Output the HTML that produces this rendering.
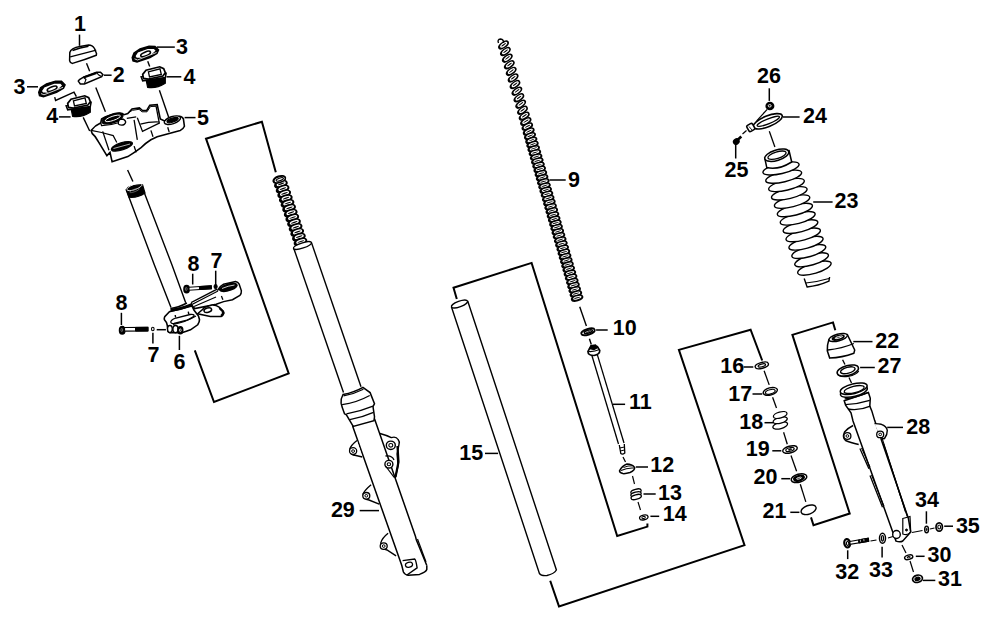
<!DOCTYPE html>
<html><head><meta charset="utf-8"><style>
html,body{margin:0;padding:0;background:#fff;width:989px;height:620px;overflow:hidden}
svg{display:block}
</style></head><body>
<svg width="989" height="620" viewBox="0 0 989 620">
<rect width="989" height="620" fill="#fff"/>
<g font-family="Liberation Sans" font-weight="bold" font-size="21.5" fill="#000" stroke="none">
<text x="74.1" y="30.8">1</text>
<text x="112.8" y="82.1">2</text>
<text x="13.5" y="93.7">3</text>
<text x="176.1" y="54">3</text>
<text x="183.5" y="83.7">4</text>
<text x="46.3" y="123.2">4</text>
<text x="196.9" y="124.6">5</text>
<text x="173.4" y="368.5">6</text>
<text x="210.4" y="267.9">7</text>
<text x="147.4" y="361.9">7</text>
<text x="187.4" y="271.3">8</text>
<text x="115.4" y="309.5">8</text>
<text x="568.1" y="186.7">9</text>
<text x="612.8" y="335.3">10</text>
<text x="629" y="409.4">11</text>
<text x="650.3" y="472.1">12</text>
<text x="658.1" y="499.7">13</text>
<text x="662.7" y="521.1">14</text>
<text x="459.2" y="459.5">15</text>
<text x="720.3" y="373.1">16</text>
<text x="728.3" y="400.6">17</text>
<text x="739.3" y="428.9">18</text>
<text x="745.8" y="456">19</text>
<text x="753.5" y="484.4">20</text>
<text x="762.5" y="517.9">21</text>
<text x="875.3" y="347.7">22</text>
<text x="834.5" y="207.6">23</text>
<text x="803.1" y="123.4">24</text>
<text x="724.5" y="176.8">25</text>
<text x="757" y="82.5">26</text>
<text x="877.5" y="372.5">27</text>
<text x="906.3" y="433.7">28</text>
<text x="330.9" y="516.9">29</text>
<text x="927.5" y="561.5">30</text>
<text x="938.1" y="586.2">31</text>
<text x="835.3" y="579.2">32</text>
<text x="869" y="577.4">33</text>
<text x="915.1" y="506.5">34</text>
<text x="955.9" y="533">35</text>
</g>
<g stroke="#000" fill="none" stroke-linecap="butt" stroke-linejoin="miter">
<line x1="79.5" y1="34.6" x2="79.5" y2="45.8" stroke-width="1.5"/>
<line x1="103.9" y1="75.2" x2="111.6" y2="75.2" stroke-width="1.5"/>
<line x1="27" y1="86.8" x2="38" y2="86.8" stroke-width="1.5"/>
<line x1="156.8" y1="47.1" x2="174.8" y2="47.1" stroke-width="1.5"/>
<line x1="166.5" y1="76.8" x2="181.3" y2="76.8" stroke-width="1.5"/>
<line x1="59" y1="116.9" x2="70.6" y2="116.9" stroke-width="1.5"/>
<line x1="184.6" y1="117.6" x2="195.5" y2="117.6" stroke-width="1.5"/>
<line x1="192.7" y1="273.7" x2="192.7" y2="284.5" stroke-width="1.5"/>
<line x1="215.7" y1="270.7" x2="215.7" y2="285.2" stroke-width="1.5"/>
<line x1="121.4" y1="312.8" x2="121.4" y2="325" stroke-width="1.5"/>
<line x1="152.9" y1="332.7" x2="152.9" y2="343.5" stroke-width="1.5"/>
<line x1="156.7" y1="329.7" x2="165.9" y2="329.7" stroke-width="1.5"/>
<line x1="179.4" y1="335.8" x2="179.4" y2="350" stroke-width="1.5"/>
<line x1="549.5" y1="180" x2="565.7" y2="180" stroke-width="1.5"/>
<line x1="596.1" y1="330" x2="607.7" y2="330" stroke-width="1.5"/>
<line x1="612.9" y1="404.3" x2="625.1" y2="404.3" stroke-width="1.5"/>
<line x1="635.8" y1="467" x2="648" y2="467" stroke-width="1.5"/>
<line x1="643.5" y1="494" x2="655.7" y2="494" stroke-width="1.5"/>
<line x1="650.4" y1="516.3" x2="659.2" y2="516.3" stroke-width="1.5"/>
<line x1="485" y1="453.4" x2="498.1" y2="453.4" stroke-width="1.5"/>
<line x1="743.6" y1="367" x2="753.3" y2="367" stroke-width="1.5"/>
<line x1="752.5" y1="394" x2="762.2" y2="394" stroke-width="1.5"/>
<line x1="764.5" y1="422.7" x2="773.5" y2="422.7" stroke-width="1.5"/>
<line x1="772.3" y1="450.8" x2="781.3" y2="450.8" stroke-width="1.5"/>
<line x1="781.3" y1="478.7" x2="790.3" y2="478.7" stroke-width="1.5"/>
<line x1="790.3" y1="512.3" x2="799.4" y2="512.3" stroke-width="1.5"/>
<line x1="853.3" y1="341.6" x2="872.5" y2="341.6" stroke-width="1.5"/>
<line x1="813.2" y1="202" x2="832.6" y2="202" stroke-width="1.5"/>
<line x1="782.9" y1="117" x2="799.6" y2="117" stroke-width="1.5"/>
<line x1="735.7" y1="143.8" x2="735.7" y2="158.5" stroke-width="1.5"/>
<line x1="769.3" y1="88.3" x2="769.3" y2="100.9" stroke-width="1.5"/>
<line x1="860.1" y1="367.5" x2="874.8" y2="367.5" stroke-width="1.5"/>
<line x1="887.2" y1="427.4" x2="903" y2="427.4" stroke-width="1.5"/>
<line x1="359.7" y1="510.6" x2="379" y2="510.6" stroke-width="1.5"/>
<line x1="915.8" y1="556.3" x2="924.6" y2="556.3" stroke-width="1.5"/>
<line x1="922.9" y1="580.4" x2="935.3" y2="580.4" stroke-width="1.5"/>
<line x1="847.7" y1="550.3" x2="847.7" y2="559.1" stroke-width="1.5"/>
<line x1="882.1" y1="546.7" x2="882.1" y2="557.4" stroke-width="1.5"/>
<line x1="926.4" y1="511.3" x2="926.4" y2="523.7" stroke-width="1.5"/>
<line x1="944.2" y1="526.2" x2="953" y2="526.2" stroke-width="1.5"/>
<polyline points="194.8,350.3 214,402 288.7,373.5 206,138.7 261.9,121.7 275.8,172.3" stroke-width="2" fill="none"/>
<polyline points="456.8,299 453.5,287.7 531.6,262.9 617.2,536 647.4,526.6 647.4,523.5" stroke-width="2" fill="none"/>
<polyline points="550.2,580.7 559,606.4 744.5,545.2 678.9,349.9 750.6,329.7 762.2,360.5" stroke-width="2" fill="none"/>
<polyline points="811,517.4 813.5,525.2 849.7,513.5 792.4,334.8 833,322.4 835.3,330.3" stroke-width="2" fill="none"/>
<line x1="86.5" y1="63.3" x2="89.7" y2="71.3" stroke-width="1.4"/>
<line x1="95.8" y1="87.4" x2="105.4" y2="111.8" stroke-width="1.4"/>
<line x1="147.7" y1="61.3" x2="149.7" y2="66.5" stroke-width="1.4"/>
<line x1="159.4" y1="90.3" x2="168.6" y2="116.9" stroke-width="1.4"/>
<line x1="83.2" y1="117.4" x2="89.7" y2="131" stroke-width="1.4"/>
<polyline points="91,131 115.5,135.5 118,142" stroke-width="1.3" fill="none"/>
<polyline points="54.7,97.1 55.6,100.5 74,92.2 76.4,96.6" stroke-width="1.4" fill="none"/>
<line x1="127.6" y1="170" x2="132.9" y2="181.5" stroke-width="1.4"/>
<path d="M69.8,52.5 Q71,48 80,46.5 L88.5,45 Q92.5,45 94.5,48.5 L96.5,53.5 L96.3,55.2 Q84,60 72.5,63.4 Q70,63 69.6,60.5 Z" stroke-width="1.5" fill="#fff" />
<path d="M70.2,56.8 Q84,53.5 96.2,50.2" stroke-width="1.3" fill="none" />
<path d="M72.5,50.5 Q80,47.5 88.5,46.3" stroke-width="1.6" fill="none" />
<path d="M78.3,81.1 L80.3,84 L84.4,84 L101.7,76.7 L102.9,74.7 L100.5,72.3 L96.5,72.3 L83.5,77.1 L79.5,79.5 Z" stroke-width="1.5" fill="#fff" />
<path d="M83.5,77.5 L96.5,73" stroke-width="2.2" fill="none" />
<path d="M84.4,83.6 L86,79.5 L83.8,77.5 M96.8,72.8 L98.8,75 L101.5,76.5" stroke-width="1.1" fill="none" />
<polygon points="132.2,57.5 133.0,61.0 137.0,62.0 150.0,57.5 157.0,53.5 158.6,50.0 155.0,46.5 149.0,46.3 140.0,49.0 134.0,53.0" fill="#000" stroke="#000" stroke-width="1.4"/>
<polygon points="134.8,56.2 137.5,52.0 147.5,48.3 154.2,48.3 156.5,50.8 152.0,54.8 140.5,58.5 136.2,58.2" fill="#fff" stroke="#000" stroke-width="1.3"/>
<ellipse cx="145.6" cy="53.9" rx="5.2" ry="1.9" transform="rotate(-22 145.6 53.9)" stroke-width="1.6" fill="#fff"/>
<path d="M134.5,58.8 L137.5,60.0 L156.5,52.5" stroke="#fff" stroke-width="0.8" fill="none"/>
<polygon points="38.7,92.3 39.5,95.8 43.5,96.8 56.5,92.3 63.5,88.3 65.1,84.8 61.5,81.3 55.5,81.1 46.5,83.8 40.5,87.8" fill="#000" stroke="#000" stroke-width="1.4"/>
<polygon points="41.3,91.0 44.0,86.8 54.0,83.1 60.7,83.1 63.0,85.6 58.5,89.6 47.0,93.3 42.7,93.0" fill="#fff" stroke="#000" stroke-width="1.3"/>
<ellipse cx="52.1" cy="88.7" rx="5.2" ry="1.9" transform="rotate(-22 52.1 88.7)" stroke-width="1.6" fill="#fff"/>
<path d="M41.0,93.6 L44.0,94.8 L63.0,87.3" stroke="#fff" stroke-width="0.8" fill="none"/>
<path d="M146.0,79.5 L147.6,87.3 Q156.0,89.0 165.3,83.2 L165.3,76.5 Z" fill="#000" stroke="#000" stroke-width="1.2"/>
<path d="M141.1,76.8 L142.7,80.8 L165.3,77.6 L166.1,73.5 Z" fill="#fff" stroke="#000" stroke-width="1.5"/>
<polygon points="142.7,74.4 146.0,70.3 159.7,66.8 163.7,68.7 165.3,72.7 162.9,76.0 148.4,79.2 143.5,78.4" fill="#fff" stroke="#000" stroke-width="1.7"/>
<polygon points="148.4,71.8 160.0,68.8 161.3,74.5 149.5,77.0" fill="#fff" stroke="#000" stroke-width="1.3"/>
<line x1="146.5" y1="81.5" x2="165" y2="78.8" stroke-width="0.8"/>
<path d="M71.0,108.5 L72.6,116.3 Q81.0,118.0 90.3,112.2 L90.3,105.5 Z" fill="#000" stroke="#000" stroke-width="1.2"/>
<path d="M66.1,105.8 L67.7,109.8 L90.3,106.6 L91.1,102.5 Z" fill="#fff" stroke="#000" stroke-width="1.5"/>
<polygon points="67.7,103.4 71.0,99.3 84.7,95.8 88.7,97.7 90.3,101.7 87.9,105.0 73.4,108.2 68.5,107.4" fill="#fff" stroke="#000" stroke-width="1.7"/>
<polygon points="73.4,100.8 85.0,97.8 86.3,103.5 74.5,106.0" fill="#fff" stroke="#000" stroke-width="1.3"/>
<line x1="71.5" y1="110.5" x2="90" y2="107.8" stroke-width="0.8"/>
<path d="M91.1,130.4 Q95,125.5 100.6,123.1 L101.6,118.9 Q108,115 119.4,113.1 Q122.5,113 124.2,114.7 L127.8,113.6 L132,108.9 L139.4,107.9 L142.5,110.5 L146.7,110.5 L149.8,105.2 L157.2,104.7 L160.3,118.9 L164.5,121 L179.2,116.2 Q182.5,116.5 183.4,118.9 L184.4,126.2 Q183,129.5 180.2,130.4 L157.2,136.7 L150.9,139.8 Q145,143.5 140.4,148.2 Q134,153 127.8,156.6 L112.1,161.8 L110,152.4 L106.9,155.6 L98.5,141.9 Q95.5,136 92.2,133.5 Z" stroke-width="1.6" fill="#fff" />
<ellipse cx="112.5" cy="118.6" rx="11" ry="4.3" transform="rotate(-19 112.5 118.6)" stroke-width="1.2" fill="#000"/>
<ellipse cx="112.8" cy="118.4" rx="8" ry="2.1" transform="rotate(-19 112.8 118.4)" stroke-width="0.9" fill="none" stroke="#fff"/>
<path d="M100.6,123.1 L101.6,125.7 Q110,125.5 119.4,122.5 L123.6,118.9" stroke-width="1.3" fill="none" />
<path d="M118.4,124 Q118,119.5 121,119 Q125,119 125.7,122 Q125,125.2 121.5,125.2 Q119,125 118.4,124 Z" stroke-width="1.3" fill="#fff" />
<path d="M102.7,131.4 L109,150.3" stroke-width="1.3" fill="none" />
<path d="M134.1,119.9 L137.3,139.8" stroke-width="1.3" fill="none" />
<path d="M126.8,118.3 L136.2,116.8" stroke-width="1.3" fill="none" />
<ellipse cx="121.9" cy="146.3" rx="11" ry="3.6" transform="rotate(-18 121.9 146.3)" stroke-width="1.2" fill="#000"/>
<path d="M113.5,148.5 L130,144" stroke-width="0.7" fill="none" stroke="#fff" />
<path d="M91.1,130.4 L101.6,132.5 L113.2,135.6 L116.8,142.5" stroke-width="1.2" fill="none" />
<path d="M137.3,117.8 L142.5,131.4 L159.3,123.1 L156.1,106.3" stroke-width="1.3" fill="none" />
<path d="M140.4,124.1 Q150,121.5 159.3,122" stroke-width="1.2" fill="none" />
<path d="M128.5,112.5 L132.5,110.3 L139,109.3 L142,111.8 L147,111.8 L150.5,106.5 L156.5,106.3" stroke-width="1.0" fill="none" />
<ellipse cx="172.4" cy="120.2" rx="8.5" ry="3.6" transform="rotate(-18 172.4 120.2)" stroke-width="1.4" fill="#fff"/>
<ellipse cx="172.6" cy="120.1" rx="5.8" ry="2" transform="rotate(-18 172.6 120.1)" stroke-width="1.3" fill="#000"/>
<line x1="134.1" y1="146.1" x2="136.2" y2="152.4" stroke-width="1.3"/>
<line x1="150.9" y1="130.4" x2="153" y2="136.7" stroke-width="1.3"/>
<line x1="167.7" y1="127.3" x2="169.2" y2="132" stroke-width="1.3"/>
<path d="M126,189.2 L154.4,265 L171,307.5" stroke-width="1.4" fill="none" />
<path d="M144.4,193 L172,265 L185.7,302.8" stroke-width="1.4" fill="none" />
<path d="M126.5,189.5 Q128,185 142.5,184.7 L145,193 Q138,198 129,197.2 Z" stroke-width="1.2" fill="#000" />
<ellipse cx="134.5" cy="187" rx="8" ry="2.6" transform="rotate(-20 134.5 187)" stroke-width="0.8" fill="none" stroke="#fff"/>
<ellipse cx="134.5" cy="190.5" rx="5" ry="1.2" transform="rotate(-20 134.5 190.5)" stroke-width="0.6" fill="none" stroke="#888"/>
<path d="M191,304.2 L217.7,290.1 Q220,286 223.6,284.2 L235.5,281.6 Q238,282 239.2,284.2 L241.4,290.8 Q241.5,294 239.9,295.3 L232.5,299.7 L223.6,301.6 L216.2,304.2 L194.7,308.6 Z" stroke-width="1.5" fill="#fff" />
<path d="M191.5,303.5 L217.5,290" stroke-width="3.2" fill="none" />
<path d="M192,303.3 L217.3,290.3" stroke-width="0.9" fill="none" stroke="#fff" />
<path d="M219.2,289.5 Q222,285.5 231,283.5 Q236.5,282.8 237,285.5 Q236,289 227,291 Q221.5,292.3 219.2,289.5 Z" stroke-width="1.5" fill="#000" />
<path d="M222,288.5 Q228,285.8 234.5,285" stroke-width="0.8" fill="none" stroke="#fff" />
<line x1="221.4" y1="296" x2="222.9" y2="299.7" stroke-width="1.3"/>
<path d="M194,306.5 L216,297" stroke-width="1.2" fill="none" />
<path d="M202.8,309.4 Q203.5,307.5 205,307.2 L212.5,304.9 Q216.5,305 219.2,307.2 L222.9,310.9 Q224.5,313 223.6,313.8 Q222.5,316 221.4,316.4 L210.3,316.4 L197.6,313.8 Z" stroke-width="1.5" fill="#fff" />
<path d="M219.5,308 L223,311.5 Q223.5,314.5 221,316" stroke-width="2.3" fill="none" />
<ellipse cx="207.8" cy="310.1" rx="3.9" ry="2.2" transform="rotate(-15 207.8 310.1)" stroke-width="1.5" fill="#fff"/>
<path d="M169.4,311.7 L164.7,316.8 Q164,318.5 164.4,319.7 L166.5,322.6 L167.3,325.5 L168,331.3 Q169,332.5 170.9,332.7 L181.8,332.7 Q186.5,331.5 190.5,329.8 L197.7,324.8 Q199.5,322 199.5,319.7 L198.5,316 L194.1,310.2 L191.9,305.9 Z" stroke-width="1.6" fill="#fff" />
<path d="M170.5,308.4 Q178,307.7 186.9,303" stroke-width="1.5" fill="none" />
<path d="M170.5,309.8 Q180,309 191,304.6" stroke-width="2.6" fill="none" />
<path d="M170.9,311.2 Q180.3,310.5 190.8,305.8" stroke-width="1.2" fill="none" />
<path d="M170.9,322.6 Q170,320 176,318 L190,314.5 Q194.5,314 194.1,316 Q192,318 186,320.5 L174,323.5 Q171.5,324 170.9,322.6 Z" stroke-width="1.3" fill="#fff" />
<path d="M173,324.5 Q186,322 196,316" stroke-width="1.1" fill="none" />
<line x1="175.2" y1="315" x2="175.6" y2="317.5" stroke-width="1.4"/>
<line x1="188.3" y1="311.6" x2="188.7" y2="314" stroke-width="1.4"/>
<ellipse cx="169.9" cy="329.1" rx="2.4" ry="3.6" transform="rotate(0 169.9 329.1)" stroke-width="1.4" fill="#fff"/>
<ellipse cx="175.5" cy="329.1" rx="2.6" ry="3.6" transform="rotate(0 175.5 329.1)" stroke-width="1.4" fill="#fff"/>
<ellipse cx="180.3" cy="330.2" rx="2.3" ry="3.3" transform="rotate(0 180.3 330.2)" stroke-width="1.8" fill="#000"/>
<ellipse cx="180.3" cy="330.2" rx="0.9" ry="1.3" transform="rotate(0 180.3 330.2)" stroke-width="0.8" fill="none" stroke="#fff"/>
<ellipse cx="186.6" cy="289.2" rx="2.6" ry="3.6" transform="rotate(0 186.6 289.2)" stroke-width="1.6" fill="#000"/>
<ellipse cx="186.2" cy="289" rx="0.9" ry="1.6" transform="rotate(0 186.2 289)" stroke-width="0.7" fill="none" stroke="#888"/>
<path d="M189,287.2 L211.2,285.8 L211.3,288.8 L189,290.2 Z" stroke-width="1.1" fill="#fff" />
<path d="M199.5,286.6 L211.2,285.8 L211.3,288.8 L199.5,289.5 Z" stroke-width="1.1" fill="#000" />
<ellipse cx="215.6" cy="286.5" rx="1.5" ry="2" transform="rotate(0 215.6 286.5)" stroke-width="1.2" fill="#000"/>
<ellipse cx="122.2" cy="330.2" rx="2.6" ry="3.7" transform="rotate(0 122.2 330.2)" stroke-width="1.7" fill="#000"/>
<ellipse cx="121.8" cy="330" rx="0.9" ry="1.6" transform="rotate(0 121.8 330)" stroke-width="0.7" fill="none" stroke="#888"/>
<path d="M124.5,327.5 L147.9,327.3 L147.9,331 L124.5,331.2 Z" stroke-width="1.2" fill="#fff" />
<path d="M135.5,327.4 L147.9,327.3 L147.9,331 L135.5,331.1 Z" stroke-width="1" fill="#000" />
<ellipse cx="152.8" cy="329" rx="1.3" ry="1.8" transform="rotate(0 152.8 329)" stroke-width="1.1" fill="#fff"/>
<ellipse cx="279.3" cy="179.5" rx="6" ry="3" transform="rotate(-18.7 279.3 179.5)" stroke-width="2.3" fill="#000"/>
<ellipse cx="279.6" cy="179" rx="4.1" ry="1.3" transform="rotate(-18.7 279.6 179)" stroke-width="1.3" fill="none" stroke="#fff"/>
<ellipse cx="280.9" cy="184.3" rx="6" ry="3" transform="rotate(-18.7 280.9 184.3)" stroke-width="2.3" fill="#000"/>
<ellipse cx="281.2" cy="183.8" rx="4.1" ry="1.3" transform="rotate(-18.7 281.2 183.8)" stroke-width="1.3" fill="none" stroke="#fff"/>
<ellipse cx="282.6" cy="189.1" rx="6" ry="3" transform="rotate(-18.7 282.6 189.1)" stroke-width="2.3" fill="#000"/>
<ellipse cx="282.9" cy="188.6" rx="4.1" ry="1.3" transform="rotate(-18.7 282.9 188.6)" stroke-width="1.3" fill="none" stroke="#fff"/>
<ellipse cx="284.2" cy="193.9" rx="6" ry="3" transform="rotate(-18.7 284.2 193.9)" stroke-width="2.3" fill="#000"/>
<ellipse cx="284.5" cy="193.4" rx="4.1" ry="1.3" transform="rotate(-18.7 284.5 193.4)" stroke-width="1.3" fill="none" stroke="#fff"/>
<ellipse cx="285.8" cy="198.7" rx="6" ry="3" transform="rotate(-18.7 285.8 198.7)" stroke-width="2.3" fill="#000"/>
<ellipse cx="286.1" cy="198.2" rx="4.1" ry="1.3" transform="rotate(-18.7 286.1 198.2)" stroke-width="1.3" fill="none" stroke="#fff"/>
<ellipse cx="287.5" cy="203.5" rx="6" ry="3" transform="rotate(-18.7 287.5 203.5)" stroke-width="2.3" fill="#000"/>
<ellipse cx="287.8" cy="203" rx="4.1" ry="1.3" transform="rotate(-18.7 287.8 203)" stroke-width="1.3" fill="none" stroke="#fff"/>
<ellipse cx="289.1" cy="208.3" rx="6" ry="3" transform="rotate(-18.7 289.1 208.3)" stroke-width="2.3" fill="#000"/>
<ellipse cx="289.4" cy="207.8" rx="4.1" ry="1.3" transform="rotate(-18.7 289.4 207.8)" stroke-width="1.3" fill="none" stroke="#fff"/>
<ellipse cx="290.7" cy="213.2" rx="6" ry="3" transform="rotate(-18.7 290.7 213.2)" stroke-width="2.3" fill="#000"/>
<ellipse cx="291" cy="212.7" rx="4.1" ry="1.3" transform="rotate(-18.7 291 212.7)" stroke-width="1.3" fill="none" stroke="#fff"/>
<ellipse cx="292.3" cy="218" rx="6" ry="3" transform="rotate(-18.7 292.3 218)" stroke-width="2.3" fill="#000"/>
<ellipse cx="292.6" cy="217.5" rx="4.1" ry="1.3" transform="rotate(-18.7 292.6 217.5)" stroke-width="1.3" fill="none" stroke="#fff"/>
<ellipse cx="294" cy="222.8" rx="6" ry="3" transform="rotate(-18.7 294 222.8)" stroke-width="2.3" fill="#000"/>
<ellipse cx="294.3" cy="222.3" rx="4.1" ry="1.3" transform="rotate(-18.7 294.3 222.3)" stroke-width="1.3" fill="none" stroke="#fff"/>
<ellipse cx="295.6" cy="227.6" rx="6" ry="3" transform="rotate(-18.7 295.6 227.6)" stroke-width="2.3" fill="#000"/>
<ellipse cx="295.9" cy="227.1" rx="4.1" ry="1.3" transform="rotate(-18.7 295.9 227.1)" stroke-width="1.3" fill="none" stroke="#fff"/>
<ellipse cx="297.2" cy="232.4" rx="6" ry="3" transform="rotate(-18.7 297.2 232.4)" stroke-width="2.3" fill="#000"/>
<ellipse cx="297.5" cy="231.9" rx="4.1" ry="1.3" transform="rotate(-18.7 297.5 231.9)" stroke-width="1.3" fill="none" stroke="#fff"/>
<ellipse cx="298.9" cy="237.2" rx="6" ry="3" transform="rotate(-18.7 298.9 237.2)" stroke-width="2.3" fill="#000"/>
<ellipse cx="299.2" cy="236.7" rx="4.1" ry="1.3" transform="rotate(-18.7 299.2 236.7)" stroke-width="1.3" fill="none" stroke="#fff"/>
<ellipse cx="300.5" cy="242" rx="6" ry="3" transform="rotate(-18.7 300.5 242)" stroke-width="2.3" fill="#000"/>
<ellipse cx="300.8" cy="241.5" rx="4.1" ry="1.3" transform="rotate(-18.7 300.8 241.5)" stroke-width="1.3" fill="none" stroke="#fff"/>
<ellipse cx="279.6" cy="179.6" rx="6" ry="2.9" transform="rotate(-18.5 279.6 179.6)" stroke-width="1.6" fill="#fff"/>
<ellipse cx="279.8" cy="179.4" rx="3.8" ry="1.3" transform="rotate(-18.5 279.8 179.4)" stroke-width="1.1" fill="none"/>
<path d="M293.9,248.7 L343.5,392.6" stroke-width="1.4" fill="none" />
<path d="M311.6,243 L361,386.8" stroke-width="1.4" fill="none" />
<ellipse cx="302.5" cy="245.5" rx="9.5" ry="2.6" transform="rotate(-18 302.5 245.5)" stroke-width="1.3" fill="#fff"/>
<path d="M343,394.5 Q340.5,399 341.1,403.2 L342.1,407.1 L344.5,413.8 L346.4,414.8 L353.2,426.4 L374,420.6 L374.5,416.8 L373,406.6 L374.5,403.7 L370.1,392.6 L362.9,387.3 Q354,392.5 343,394.5 Z" stroke-width="1.5" fill="#fff" />
<path d="M343.5,395.8 Q354,394 363.4,389.2" stroke-width="1.2" fill="none" />
<path d="M342.1,404.7 Q357,402.5 369.7,395.5" stroke-width="1.3" fill="none" />
<path d="M346.4,413.8 Q360,411.5 373,406.1" stroke-width="1.3" fill="none" />
<path d="M349.8,419.7 Q362,417.5 373.5,412.4" stroke-width="1.3" fill="none" />
<path d="M352.6,426 L401.8,565.5 L403.4,572 Q405,575 408.2,575.2 L419.5,574.4 Q426,572 426.8,569.5 L426.8,565.5" stroke-width="1.5" fill="none" />
<path d="M374.5,418.7 L415.5,536.5 L416.3,539.7 L426.8,565.5" stroke-width="1.5" fill="none" />
<path d="M417.5,539 L426,562" stroke-width="1.2" fill="none" />
<path d="M357,440.5 Q351,445 349.7,449.2 Q350,455.5 356,455.5 L362.3,457" stroke-width="1.4" fill="#fff" />
<ellipse cx="353.1" cy="451.1" rx="3.6" ry="3.4" transform="rotate(0 353.1 451.1)" stroke-width="1.3" fill="#fff"/>
<ellipse cx="353.1" cy="451.1" rx="1.5" ry="1.3" transform="rotate(0 353.1 451.1)" stroke-width="1" fill="#fff"/>
<path d="M379.2,433.2 Q386,435 391.3,437.6 Q396,436 398.1,439.5 Q400,442 399,444.4 L397.1,454 L398.1,465.7 L395.2,478.2" stroke-width="1.4" fill="none" />
<path d="M397.5,446 L398.5,462 L395.5,477" stroke-width="2.2" fill="none" />
<ellipse cx="390.8" cy="445.3" rx="4.5" ry="4.2" transform="rotate(0 390.8 445.3)" stroke-width="1.4" fill="#fff"/>
<ellipse cx="390.8" cy="445.3" rx="2" ry="1.8" transform="rotate(0 390.8 445.3)" stroke-width="1.1" fill="#fff"/>
<path d="M385.5,456 Q392,455 394,460" stroke-width="1.3" fill="none" />
<ellipse cx="388.9" cy="464.2" rx="4" ry="3.8" transform="rotate(0 388.9 464.2)" stroke-width="1.4" fill="#fff"/>
<ellipse cx="388.9" cy="464.2" rx="1.7" ry="1.5" transform="rotate(0 388.9 464.2)" stroke-width="1.1" fill="#fff"/>
<path d="M385.5,466 L394.2,477.3" stroke-width="1.2" fill="none" />
<path d="M371.1,484.8 Q365,490 363.1,493.7 Q363,499 369,500 L379.2,504.2" stroke-width="1.4" fill="none" />
<ellipse cx="366.3" cy="495.8" rx="3.5" ry="3.3" transform="rotate(0 366.3 495.8)" stroke-width="1.3" fill="#fff"/>
<ellipse cx="366.3" cy="495.8" rx="1.4" ry="1.3" transform="rotate(0 366.3 495.8)" stroke-width="1" fill="#fff"/>
<path d="M388.1,533.2 Q382,538 380.8,542.9 Q381,549 387,550 L396.1,555.8" stroke-width="1.4" fill="none" />
<ellipse cx="383.7" cy="546.1" rx="3.5" ry="3.3" transform="rotate(0 383.7 546.1)" stroke-width="1.3" fill="#fff"/>
<ellipse cx="383.7" cy="546.1" rx="1.4" ry="1.3" transform="rotate(0 383.7 546.1)" stroke-width="1" fill="#fff"/>
<path d="M402.6,560.6 L414.7,559 Q416,560 417.1,567.9 L406.6,575.2" stroke-width="1.4" fill="none" />
<ellipse cx="409" cy="564.8" rx="3.6" ry="2.4" transform="rotate(-15 409 564.8)" stroke-width="1.3" fill="#fff"/>
<ellipse cx="503.5" cy="45" rx="5.4" ry="2.5" transform="rotate(-36.2 503.5 45)" stroke-width="1.5" fill="#000"/>
<ellipse cx="503.7" cy="44.7" rx="3.5" ry="1.2" transform="rotate(-36.2 503.7 44.7)" stroke-width="1.3" fill="none" stroke="#fff"/>
<ellipse cx="505.4" cy="51.6" rx="5.4" ry="2.5" transform="rotate(-36.2 505.4 51.6)" stroke-width="1.5" fill="#000"/>
<ellipse cx="505.6" cy="51.3" rx="3.5" ry="1.2" transform="rotate(-36.2 505.6 51.3)" stroke-width="1.3" fill="none" stroke="#fff"/>
<ellipse cx="507.3" cy="58.2" rx="5.4" ry="2.5" transform="rotate(-36.2 507.3 58.2)" stroke-width="1.5" fill="#000"/>
<ellipse cx="507.5" cy="57.9" rx="3.5" ry="1.2" transform="rotate(-36.2 507.5 57.9)" stroke-width="1.3" fill="none" stroke="#fff"/>
<ellipse cx="509.3" cy="64.8" rx="5.4" ry="2.5" transform="rotate(-36.2 509.3 64.8)" stroke-width="1.5" fill="#000"/>
<ellipse cx="509.5" cy="64.5" rx="3.5" ry="1.2" transform="rotate(-36.2 509.5 64.5)" stroke-width="1.3" fill="none" stroke="#fff"/>
<ellipse cx="511.2" cy="71.4" rx="5.4" ry="2.5" transform="rotate(-36.2 511.2 71.4)" stroke-width="1.5" fill="#000"/>
<ellipse cx="511.4" cy="71.1" rx="3.5" ry="1.2" transform="rotate(-36.2 511.4 71.1)" stroke-width="1.3" fill="none" stroke="#fff"/>
<ellipse cx="513.1" cy="78" rx="5.4" ry="2.5" transform="rotate(-36.2 513.1 78)" stroke-width="1.5" fill="#000"/>
<ellipse cx="513.3" cy="77.7" rx="3.5" ry="1.2" transform="rotate(-36.2 513.3 77.7)" stroke-width="1.3" fill="none" stroke="#fff"/>
<ellipse cx="515" cy="84.6" rx="5.4" ry="2.5" transform="rotate(-36.2 515 84.6)" stroke-width="1.5" fill="#000"/>
<ellipse cx="515.2" cy="84.3" rx="3.5" ry="1.2" transform="rotate(-36.2 515.2 84.3)" stroke-width="1.3" fill="none" stroke="#fff"/>
<ellipse cx="516.9" cy="91.2" rx="5.4" ry="2.5" transform="rotate(-36.2 516.9 91.2)" stroke-width="1.5" fill="#000"/>
<ellipse cx="517.1" cy="90.9" rx="3.5" ry="1.2" transform="rotate(-36.2 517.1 90.9)" stroke-width="1.3" fill="none" stroke="#fff"/>
<ellipse cx="518.9" cy="97.8" rx="5.4" ry="2.5" transform="rotate(-36.2 518.9 97.8)" stroke-width="1.5" fill="#000"/>
<ellipse cx="519.1" cy="97.5" rx="3.5" ry="1.2" transform="rotate(-36.2 519.1 97.5)" stroke-width="1.3" fill="none" stroke="#fff"/>
<ellipse cx="520.7" cy="104.2" rx="5.4" ry="2.5" transform="rotate(-36.2 520.7 104.2)" stroke-width="1.5" fill="#000"/>
<ellipse cx="520.9" cy="103.9" rx="3.5" ry="1.2" transform="rotate(-36.2 520.9 103.9)" stroke-width="1.3" fill="none" stroke="#fff"/>
<ellipse cx="522.5" cy="110.3" rx="5.4" ry="2.5" transform="rotate(-36.1 522.5 110.3)" stroke-width="1.5" fill="#000"/>
<ellipse cx="522.7" cy="110" rx="3.5" ry="1.2" transform="rotate(-36.1 522.7 110)" stroke-width="1.2975185185185187" fill="none" stroke="#fff"/>
<ellipse cx="524.2" cy="116.1" rx="5.4" ry="2.5" transform="rotate(-33.2 524.2 116.1)" stroke-width="1.5" fill="#000"/>
<ellipse cx="524.4" cy="115.8" rx="3.5" ry="1.2" transform="rotate(-33.2 524.4 115.8)" stroke-width="1.2544063786008233" fill="none" stroke="#fff"/>
<ellipse cx="525.8" cy="121.5" rx="5.5" ry="2.5" transform="rotate(-30.5 525.8 121.5)" stroke-width="1.5" fill="#000"/>
<ellipse cx="526" cy="121.2" rx="3.6" ry="1.1" transform="rotate(-30.5 526 121.2)" stroke-width="1.2136893575674441" fill="none" stroke="#fff"/>
<ellipse cx="527.3" cy="126.6" rx="5.5" ry="2.5" transform="rotate(-27.9 527.3 126.6)" stroke-width="1.5" fill="#000"/>
<ellipse cx="527.5" cy="126.3" rx="3.6" ry="1.1" transform="rotate(-27.9 527.5 126.3)" stroke-width="1.1752343932581417" fill="none" stroke="#fff"/>
<ellipse cx="528.7" cy="131.5" rx="5.6" ry="2.5" transform="rotate(-25.5 528.7 131.5)" stroke-width="1.5" fill="#000"/>
<ellipse cx="528.9" cy="131.2" rx="3.7" ry="1.1" transform="rotate(-25.5 528.9 131.2)" stroke-width="1.1389158158549118" fill="none" stroke="#fff"/>
<ellipse cx="530" cy="136.1" rx="5.6" ry="2.5" transform="rotate(-23.2 530 136.1)" stroke-width="1.5" fill="#000"/>
<ellipse cx="530.2" cy="135.8" rx="3.7" ry="1.1" transform="rotate(-23.2 530.2 135.8)" stroke-width="1.1046149371963054" fill="none" stroke="#fff"/>
<ellipse cx="531.3" cy="140.4" rx="5.6" ry="2.5" transform="rotate(-21 531.3 140.4)" stroke-width="1.5" fill="#000"/>
<ellipse cx="531.5" cy="140.1" rx="3.7" ry="1" transform="rotate(-21 531.5 140.1)" stroke-width="1.0722196629076217" fill="none" stroke="#fff"/>
<ellipse cx="532.5" cy="144.5" rx="5.7" ry="2.5" transform="rotate(-19 532.5 144.5)" stroke-width="1.5" fill="#000"/>
<ellipse cx="532.7" cy="144.2" rx="3.8" ry="1" transform="rotate(-19 532.7 144.2)" stroke-width="1.0410946629076216" fill="none" stroke="#fff"/>
<ellipse cx="533.7" cy="148.7" rx="5.7" ry="2.5" transform="rotate(-16.9 533.7 148.7)" stroke-width="1.5" fill="#000"/>
<ellipse cx="533.9" cy="148.4" rx="3.8" ry="1" transform="rotate(-16.9 533.9 148.4)" stroke-width="1.0099696629076216" fill="none" stroke="#fff"/>
<ellipse cx="534.9" cy="152.8" rx="5.7" ry="2.5" transform="rotate(-16.2 534.9 152.8)" stroke-width="1.5" fill="#000"/>
<ellipse cx="535.1" cy="152.5" rx="3.8" ry="1" transform="rotate(-16.2 535.1 152.5)" stroke-width="1.0" fill="none" stroke="#fff"/>
<ellipse cx="536.1" cy="157" rx="5.7" ry="2.5" transform="rotate(-16.2 536.1 157)" stroke-width="1.5" fill="#000"/>
<ellipse cx="536.3" cy="156.7" rx="3.8" ry="1" transform="rotate(-16.2 536.3 156.7)" stroke-width="1.0" fill="none" stroke="#fff"/>
<ellipse cx="537.3" cy="161.1" rx="5.7" ry="2.5" transform="rotate(-16.2 537.3 161.1)" stroke-width="1.5" fill="#000"/>
<ellipse cx="537.5" cy="160.8" rx="3.8" ry="1" transform="rotate(-16.2 537.5 160.8)" stroke-width="1.0" fill="none" stroke="#fff"/>
<ellipse cx="538.5" cy="165.3" rx="5.7" ry="2.5" transform="rotate(-16.2 538.5 165.3)" stroke-width="1.5" fill="#000"/>
<ellipse cx="538.7" cy="165" rx="3.8" ry="1" transform="rotate(-16.2 538.7 165)" stroke-width="1.0" fill="none" stroke="#fff"/>
<ellipse cx="539.7" cy="169.4" rx="5.7" ry="2.5" transform="rotate(-16.2 539.7 169.4)" stroke-width="1.5" fill="#000"/>
<ellipse cx="539.9" cy="169.1" rx="3.8" ry="1" transform="rotate(-16.2 539.9 169.1)" stroke-width="1.0" fill="none" stroke="#fff"/>
<ellipse cx="540.9" cy="173.6" rx="5.7" ry="2.5" transform="rotate(-16.2 540.9 173.6)" stroke-width="1.5" fill="#000"/>
<ellipse cx="541.1" cy="173.3" rx="3.8" ry="1" transform="rotate(-16.2 541.1 173.3)" stroke-width="1.0" fill="none" stroke="#fff"/>
<ellipse cx="542.1" cy="177.7" rx="5.7" ry="2.5" transform="rotate(-16.2 542.1 177.7)" stroke-width="1.5" fill="#000"/>
<ellipse cx="542.3" cy="177.4" rx="3.8" ry="1" transform="rotate(-16.2 542.3 177.4)" stroke-width="1.0" fill="none" stroke="#fff"/>
<ellipse cx="543.3" cy="181.9" rx="5.7" ry="2.5" transform="rotate(-16.2 543.3 181.9)" stroke-width="1.5" fill="#000"/>
<ellipse cx="543.5" cy="181.6" rx="3.8" ry="1" transform="rotate(-16.2 543.5 181.6)" stroke-width="1.0" fill="none" stroke="#fff"/>
<ellipse cx="544.5" cy="186" rx="5.7" ry="2.5" transform="rotate(-16.2 544.5 186)" stroke-width="1.5" fill="#000"/>
<ellipse cx="544.7" cy="185.7" rx="3.8" ry="1" transform="rotate(-16.2 544.7 185.7)" stroke-width="1.0" fill="none" stroke="#fff"/>
<ellipse cx="545.7" cy="190.2" rx="5.7" ry="2.5" transform="rotate(-16.2 545.7 190.2)" stroke-width="1.5" fill="#000"/>
<ellipse cx="545.9" cy="189.9" rx="3.8" ry="1" transform="rotate(-16.2 545.9 189.9)" stroke-width="1.0" fill="none" stroke="#fff"/>
<ellipse cx="547" cy="194.3" rx="5.7" ry="2.5" transform="rotate(-16.2 547 194.3)" stroke-width="1.5" fill="#000"/>
<ellipse cx="547.2" cy="194" rx="3.8" ry="1" transform="rotate(-16.2 547.2 194)" stroke-width="1.0" fill="none" stroke="#fff"/>
<ellipse cx="548.2" cy="198.5" rx="5.7" ry="2.5" transform="rotate(-16.2 548.2 198.5)" stroke-width="1.5" fill="#000"/>
<ellipse cx="548.4" cy="198.2" rx="3.8" ry="1" transform="rotate(-16.2 548.4 198.2)" stroke-width="1.0" fill="none" stroke="#fff"/>
<ellipse cx="549.4" cy="202.6" rx="5.7" ry="2.5" transform="rotate(-16.2 549.4 202.6)" stroke-width="1.5" fill="#000"/>
<ellipse cx="549.6" cy="202.3" rx="3.8" ry="1" transform="rotate(-16.2 549.6 202.3)" stroke-width="1.0" fill="none" stroke="#fff"/>
<ellipse cx="550.6" cy="206.8" rx="5.7" ry="2.5" transform="rotate(-16.2 550.6 206.8)" stroke-width="1.5" fill="#000"/>
<ellipse cx="550.8" cy="206.5" rx="3.8" ry="1" transform="rotate(-16.2 550.8 206.5)" stroke-width="1.0" fill="none" stroke="#fff"/>
<ellipse cx="551.8" cy="210.9" rx="5.7" ry="2.5" transform="rotate(-16.2 551.8 210.9)" stroke-width="1.5" fill="#000"/>
<ellipse cx="552" cy="210.6" rx="3.8" ry="1" transform="rotate(-16.2 552 210.6)" stroke-width="1.0" fill="none" stroke="#fff"/>
<ellipse cx="553" cy="215.1" rx="5.7" ry="2.5" transform="rotate(-16.2 553 215.1)" stroke-width="1.5" fill="#000"/>
<ellipse cx="553.2" cy="214.8" rx="3.8" ry="1" transform="rotate(-16.2 553.2 214.8)" stroke-width="1.0" fill="none" stroke="#fff"/>
<ellipse cx="554.2" cy="219.2" rx="5.7" ry="2.5" transform="rotate(-16.2 554.2 219.2)" stroke-width="1.5" fill="#000"/>
<ellipse cx="554.4" cy="218.9" rx="3.8" ry="1" transform="rotate(-16.2 554.4 218.9)" stroke-width="1.0" fill="none" stroke="#fff"/>
<ellipse cx="555.4" cy="223.4" rx="5.7" ry="2.5" transform="rotate(-16.2 555.4 223.4)" stroke-width="1.5" fill="#000"/>
<ellipse cx="555.6" cy="223.1" rx="3.8" ry="1" transform="rotate(-16.2 555.6 223.1)" stroke-width="1.0" fill="none" stroke="#fff"/>
<ellipse cx="556.6" cy="227.5" rx="5.7" ry="2.5" transform="rotate(-16.2 556.6 227.5)" stroke-width="1.5" fill="#000"/>
<ellipse cx="556.8" cy="227.2" rx="3.8" ry="1" transform="rotate(-16.2 556.8 227.2)" stroke-width="1.0" fill="none" stroke="#fff"/>
<ellipse cx="557.8" cy="231.7" rx="5.7" ry="2.5" transform="rotate(-16.2 557.8 231.7)" stroke-width="1.5" fill="#000"/>
<ellipse cx="558" cy="231.4" rx="3.8" ry="1" transform="rotate(-16.2 558 231.4)" stroke-width="1.0" fill="none" stroke="#fff"/>
<ellipse cx="559" cy="235.8" rx="5.7" ry="2.5" transform="rotate(-16.2 559 235.8)" stroke-width="1.5" fill="#000"/>
<ellipse cx="559.2" cy="235.5" rx="3.8" ry="1" transform="rotate(-16.2 559.2 235.5)" stroke-width="1.0" fill="none" stroke="#fff"/>
<ellipse cx="560.2" cy="240" rx="5.7" ry="2.5" transform="rotate(-16.2 560.2 240)" stroke-width="1.5" fill="#000"/>
<ellipse cx="560.4" cy="239.7" rx="3.8" ry="1" transform="rotate(-16.2 560.4 239.7)" stroke-width="1.0" fill="none" stroke="#fff"/>
<ellipse cx="561.4" cy="244.1" rx="5.7" ry="2.5" transform="rotate(-16.2 561.4 244.1)" stroke-width="1.5" fill="#000"/>
<ellipse cx="561.6" cy="243.8" rx="3.8" ry="1" transform="rotate(-16.2 561.6 243.8)" stroke-width="1.0" fill="none" stroke="#fff"/>
<ellipse cx="562.7" cy="248.3" rx="5.7" ry="2.5" transform="rotate(-16.2 562.7 248.3)" stroke-width="1.5" fill="#000"/>
<ellipse cx="562.9" cy="248" rx="3.8" ry="1" transform="rotate(-16.2 562.9 248)" stroke-width="1.0" fill="none" stroke="#fff"/>
<ellipse cx="563.9" cy="252.4" rx="5.7" ry="2.5" transform="rotate(-16.2 563.9 252.4)" stroke-width="1.5" fill="#000"/>
<ellipse cx="564.1" cy="252.1" rx="3.8" ry="1" transform="rotate(-16.2 564.1 252.1)" stroke-width="1.0" fill="none" stroke="#fff"/>
<ellipse cx="565.1" cy="256.6" rx="5.7" ry="2.5" transform="rotate(-16.2 565.1 256.6)" stroke-width="1.5" fill="#000"/>
<ellipse cx="565.3" cy="256.3" rx="3.8" ry="1" transform="rotate(-16.2 565.3 256.3)" stroke-width="1.0" fill="none" stroke="#fff"/>
<ellipse cx="566.3" cy="260.7" rx="5.7" ry="2.5" transform="rotate(-16.2 566.3 260.7)" stroke-width="1.5" fill="#000"/>
<ellipse cx="566.5" cy="260.4" rx="3.8" ry="1" transform="rotate(-16.2 566.5 260.4)" stroke-width="1.0" fill="none" stroke="#fff"/>
<ellipse cx="567.5" cy="264.9" rx="5.7" ry="2.5" transform="rotate(-16.2 567.5 264.9)" stroke-width="1.5" fill="#000"/>
<ellipse cx="567.7" cy="264.6" rx="3.8" ry="1" transform="rotate(-16.2 567.7 264.6)" stroke-width="1.0" fill="none" stroke="#fff"/>
<ellipse cx="568.7" cy="269" rx="5.7" ry="2.5" transform="rotate(-16.2 568.7 269)" stroke-width="1.5" fill="#000"/>
<ellipse cx="568.9" cy="268.7" rx="3.8" ry="1" transform="rotate(-16.2 568.9 268.7)" stroke-width="1.0" fill="none" stroke="#fff"/>
<ellipse cx="569.9" cy="273.2" rx="5.7" ry="2.5" transform="rotate(-16.2 569.9 273.2)" stroke-width="1.5" fill="#000"/>
<ellipse cx="570.1" cy="272.9" rx="3.8" ry="1" transform="rotate(-16.2 570.1 272.9)" stroke-width="1.0" fill="none" stroke="#fff"/>
<ellipse cx="571.1" cy="277.3" rx="5.7" ry="2.5" transform="rotate(-16.2 571.1 277.3)" stroke-width="1.5" fill="#000"/>
<ellipse cx="571.3" cy="277" rx="3.8" ry="1" transform="rotate(-16.2 571.3 277)" stroke-width="1.0" fill="none" stroke="#fff"/>
<ellipse cx="572.3" cy="281.5" rx="5.7" ry="2.5" transform="rotate(-16.2 572.3 281.5)" stroke-width="1.5" fill="#000"/>
<ellipse cx="572.5" cy="281.2" rx="3.8" ry="1" transform="rotate(-16.2 572.5 281.2)" stroke-width="1.0" fill="none" stroke="#fff"/>
<ellipse cx="573.5" cy="285.6" rx="5.7" ry="2.5" transform="rotate(-16.2 573.5 285.6)" stroke-width="1.5" fill="#000"/>
<ellipse cx="573.7" cy="285.3" rx="3.8" ry="1" transform="rotate(-16.2 573.7 285.3)" stroke-width="1.0" fill="none" stroke="#fff"/>
<ellipse cx="574.7" cy="289.8" rx="5.7" ry="2.5" transform="rotate(-16.2 574.7 289.8)" stroke-width="1.5" fill="#000"/>
<ellipse cx="574.9" cy="289.5" rx="3.8" ry="1" transform="rotate(-16.2 574.9 289.5)" stroke-width="1.0" fill="none" stroke="#fff"/>
<ellipse cx="575.9" cy="293.9" rx="5.7" ry="2.5" transform="rotate(-16.2 575.9 293.9)" stroke-width="1.5" fill="#000"/>
<ellipse cx="576.1" cy="293.6" rx="3.8" ry="1" transform="rotate(-16.2 576.1 293.6)" stroke-width="1.0" fill="none" stroke="#fff"/>
<ellipse cx="577.1" cy="298.1" rx="5.7" ry="2.5" transform="rotate(-16.2 577.1 298.1)" stroke-width="1.5" fill="#000"/>
<ellipse cx="577.3" cy="297.8" rx="3.8" ry="1" transform="rotate(-16.2 577.3 297.8)" stroke-width="1.0" fill="none" stroke="#fff"/>
<path d="M498.5,43 Q497,39.5 500.5,39 Q504,39.5 503.5,43" stroke-width="1.4" fill="none" />
<line x1="579.7" y1="306.8" x2="586.4" y2="326.1" stroke-width="1.4"/>
<ellipse cx="588" cy="331.8" rx="7" ry="2.9" transform="rotate(-17 588 331.8)" stroke-width="1.8" fill="#fff"/>
<ellipse cx="588.3" cy="331.6" rx="4.2" ry="1.4" transform="rotate(-17 588.3 331.6)" stroke-width="1.5" fill="none"/>
<line x1="586" y1="333" x2="591" y2="330.5" stroke-width="0.9"/>
<line x1="589.4" y1="338.7" x2="591.3" y2="344.5" stroke-width="1.4"/>
<path d="M591.9,355.5 L618.5,444" stroke-width="1.3" fill="none" />
<path d="M597.4,354.9 L624,443" stroke-width="1.3" fill="none" />
<path d="M587.9,351.5 Q588,355.5 594,355.5 Q599.8,354.5 599.8,350.5 L597.4,346.5 L591,346 Z" stroke-width="1.6" fill="#fff" />
<path d="M588.5,351.5 Q594,352 599.5,349.5" stroke-width="1.2" fill="none" />
<path d="M589.5,348.5 L591,345.5 L595.5,345 L597.5,347.5 L594,349.5 Z" stroke-width="1.3" fill="#000" />
<path d="M619.3,445 L620.8,453.5 Q622.5,455 624.8,453 L624.3,444" stroke-width="1.3" fill="#fff" />
<line x1="619.7" y1="448" x2="624.5" y2="447" stroke-width="1"/>
<line x1="620.2" y1="451" x2="624.6" y2="450" stroke-width="1"/>
<line x1="623" y1="457" x2="625.5" y2="462" stroke-width="1.2"/>
<path d="M619.5,470.8 Q622,466 627,464 Q632,464 634.6,467.4 Q635,470.5 630,472.5 Q626,473.8 623,473.6 Q619.5,473 619.5,470.8 Z" stroke-width="1.5" fill="#fff" />
<path d="M621,470.5 Q627,467.5 634,468" stroke-width="1.1" fill="none" />
<path d="M623.5,467.5 Q628,465.5 632.5,465.8" stroke-width="1" fill="none" />
<line x1="632.5" y1="476" x2="634.5" y2="484" stroke-width="1.2"/>
<ellipse cx="636" cy="491.5" rx="5.3" ry="2.3" transform="rotate(-15 636 491.5)" stroke-width="1.3" fill="#fff"/>
<ellipse cx="636" cy="494.3" rx="5.3" ry="2.3" transform="rotate(-15 636 494.3)" stroke-width="1.3" fill="#fff"/>
<ellipse cx="636.2" cy="497" rx="5.3" ry="2.3" transform="rotate(-15 636.2 497)" stroke-width="1.3" fill="#fff"/>
<line x1="638" y1="502" x2="640.5" y2="510" stroke-width="1.2"/>
<ellipse cx="643.8" cy="517.4" rx="4.3" ry="2.4" transform="rotate(-12 643.8 517.4)" stroke-width="1.3" fill="#fff"/>
<ellipse cx="643.6" cy="517.5" rx="1.8" ry="1" transform="rotate(-12 643.6 517.5)" stroke-width="1" fill="#fff"/>
<path d="M451.4,306.8 L539.5,573.6 Q541,576 547,575.5 Q554,574 556.4,570 L467.7,301" stroke-width="1.4" fill="none" />
<ellipse cx="459.5" cy="304" rx="8.5" ry="2.9" transform="rotate(-20 459.5 304)" stroke-width="1.3" fill="#fff"/>
<line x1="764.1" y1="370.8" x2="769.2" y2="384.9" stroke-width="1.3"/>
<ellipse cx="761.8" cy="365.4" rx="6.8" ry="2.9" transform="rotate(-15 761.8 365.4)" stroke-width="1.4" fill="#fff"/>
<ellipse cx="761.8" cy="365.4" rx="3.8" ry="1.4" transform="rotate(-15 761.8 365.4)" stroke-width="1.2" fill="#fff"/>
<line x1="772.6" y1="397.3" x2="776.5" y2="408" stroke-width="1.3"/>
<ellipse cx="770.3" cy="391.4" rx="7.3" ry="3.6" transform="rotate(-15 770.3 391.4)" stroke-width="1.4" fill="#fff"/>
<ellipse cx="770.3" cy="391.8" rx="5" ry="2.1" transform="rotate(-15 770.3 391.8)" stroke-width="1.2" fill="#fff"/>
<ellipse cx="780.2" cy="425.5" rx="7.6" ry="3.2" transform="rotate(-15 780.2 425.5)" stroke-width="1.3" fill="#fff"/>
<ellipse cx="780.2" cy="420.2" rx="7.3" ry="3" transform="rotate(-15 780.2 420.2)" stroke-width="1.3" fill="#fff"/>
<ellipse cx="780.2" cy="415" rx="7" ry="3" transform="rotate(-15 780.2 415)" stroke-width="1.3" fill="#fff"/>
<line x1="783.6" y1="432.3" x2="787.3" y2="444.3" stroke-width="1.3"/>
<ellipse cx="790" cy="449.5" rx="7.5" ry="3.4" transform="rotate(-15 790 449.5)" stroke-width="1.4" fill="#fff"/>
<ellipse cx="790" cy="449.5" rx="4.3" ry="1.8" transform="rotate(-15 790 449.5)" stroke-width="1.2" fill="#fff"/>
<ellipse cx="790" cy="449.5" rx="1.5" ry="0.6" transform="rotate(-15 790 449.5)" stroke-width="1" fill="#fff"/>
<line x1="791" y1="455.5" x2="796.6" y2="471.3" stroke-width="1.3"/>
<ellipse cx="799" cy="478.2" rx="8" ry="4" transform="rotate(-15 799 478.2)" stroke-width="1.5" fill="#fff"/>
<ellipse cx="799" cy="478.2" rx="5" ry="2.3" transform="rotate(-15 799 478.2)" stroke-width="2.2" fill="#000"/>
<ellipse cx="799" cy="478.2" rx="2.5" ry="0.8" transform="rotate(-15 799 478.2)" stroke-width="0.8" fill="none" stroke="#fff"/>
<line x1="800.3" y1="484.3" x2="805.8" y2="501.9" stroke-width="1.3"/>
<ellipse cx="808.6" cy="509.8" rx="7.8" ry="4.3" transform="rotate(-20 808.6 509.8)" stroke-width="1.4" fill="#fff"/>
<line x1="842.6" y1="359.7" x2="845" y2="364.5" stroke-width="1.3"/>
<path d="M828.9,339.5 Q827,345 827.3,350.8 L829.7,358.1 Q842,357.5 853.9,353.2 L854.7,350 L847.4,334.7 Z" stroke-width="1.5" fill="#fff" />
<ellipse cx="838.2" cy="337.5" rx="9.5" ry="3.4" transform="rotate(-15 838.2 337.5)" stroke-width="1.4" fill="#fff"/>
<ellipse cx="838.2" cy="337.6" rx="6" ry="1.9" transform="rotate(-15 838.2 337.6)" stroke-width="1.6" fill="#000"/>
<ellipse cx="838.8" cy="337.3" rx="3.8" ry="0.8" transform="rotate(-15 838.8 337.3)" stroke-width="0.9" fill="none" stroke="#fff"/>
<path d="M828,350 Q842,348.5 853.9,343.5" stroke-width="1.3" fill="none" />
<ellipse cx="847.8" cy="370.5" rx="11" ry="5" transform="rotate(-15 847.8 370.5)" stroke-width="1.5" fill="#fff"/>
<ellipse cx="847.8" cy="370.3" rx="7.5" ry="3" transform="rotate(-15 847.8 370.3)" stroke-width="1.4" fill="#fff"/>
<path d="M837.5,373.5 Q838,377.5 848,376.5 Q857,374.5 858.7,371" stroke-width="1.2" fill="none" />
<line x1="849" y1="377.4" x2="851.5" y2="383" stroke-width="1.3"/>
<path d="M844.2,400.7 L845.6,405.1 L851,412.8 L853,421 L896,541.1 Q900,542.5 902.8,541 L910.7,532 L908.4,518.5 L874.7,420.6 L871.8,410.9 L869.8,406.1 L870.3,398.3 L868.4,392.5 Z" stroke-width="1.5" fill="#fff" />
<ellipse cx="853.9" cy="391.5" rx="13.8" ry="4.9" transform="rotate(-14 853.9 391.5)" stroke-width="1.5" fill="#fff"/>
<ellipse cx="853.7" cy="388.7" rx="13.8" ry="4.9" transform="rotate(-14 853.7 388.7)" stroke-width="1.5" fill="#fff"/>
<ellipse cx="854.2" cy="389.5" rx="10.3" ry="3.2" transform="rotate(-14 854.2 389.5)" stroke-width="1.3" fill="#fff"/>
<path d="M844.7,398.8 Q857,398 867.9,392.5" stroke-width="1.3" fill="none" />
<path d="M845.1,404.6 Q858,404 869.8,400.3" stroke-width="1.3" fill="none" />
<path d="M848,409 Q859.2,410.9 870.3,406.1" stroke-width="1.3" fill="none" />
<path d="M853.1,425.5 Q848,428 844.5,432 Q842,437.5 845.5,440.5 Q850,442.5 858.7,444.5" stroke-width="1.4" fill="#fff" />
<ellipse cx="847.4" cy="436" rx="3.5" ry="3.3" transform="rotate(0 847.4 436)" stroke-width="1.3" fill="#fff"/>
<ellipse cx="847.4" cy="436" rx="1.4" ry="1.3" transform="rotate(0 847.4 436)" stroke-width="1" fill="#fff"/>
<path d="M874.5,423.6 Q878,423.5 881.3,424.3 Q886.5,426 887.3,430.3 Q887.5,434.5 884.5,438.5 L881,439" stroke-width="1.4" fill="#fff" />
<ellipse cx="880.2" cy="434.4" rx="3.5" ry="3.3" transform="rotate(0 880.2 434.4)" stroke-width="1.3" fill="#fff"/>
<ellipse cx="880.2" cy="434.4" rx="1.4" ry="1.3" transform="rotate(0 880.2 434.4)" stroke-width="1" fill="#fff"/>
<path d="M859.9,448.4 L868.9,468.8" stroke-width="1.3" fill="none" />
<path d="M861.5,448 L870,467" stroke-width="1" fill="none" />
<path d="M870,475.5 L882.5,507.2" stroke-width="1.3" fill="none" />
<path d="M871.5,475 L884,506" stroke-width="1" fill="none" />
<path d="M883.6,443.9 L907.3,516.2" stroke-width="1.3" fill="none" />
<path d="M882,438 L905.5,512" stroke-width="1.1" fill="none" />
<path d="M902.8,518.5 L910,516.5 L910.7,532 Q908,536 902.8,534 Z" stroke-width="1.2" fill="none" />
<ellipse cx="896.5" cy="534.5" rx="3.8" ry="4" transform="rotate(0 896.5 534.5)" stroke-width="1.4" fill="#fff"/>
<ellipse cx="906.5" cy="530" rx="1" ry="1" transform="rotate(0 906.5 530)" stroke-width="1" fill="#000"/>
<ellipse cx="847.2" cy="543.3" rx="2.9" ry="4.2" transform="rotate(-10 847.2 543.3)" stroke-width="2.2" fill="#fff"/>
<ellipse cx="847.6" cy="543.5" rx="1.2" ry="2" transform="rotate(-10 847.6 543.5)" stroke-width="1.2" fill="none"/>
<path d="M849.8,541.5 L868.3,538.2 L868.7,541.3 L850,544.3 Z" stroke-width="1.2" fill="#fff" />
<path d="M858.5,540 L868.3,538.2 L868.7,541.3 L858.8,543 Z" stroke-width="1" fill="#000" />
<path d="M860.5,541.8 L860.3,539.7 M864,541.2 L863.8,539.1" stroke-width="0.7" fill="none" stroke="#fff" />
<line x1="870.5" y1="541" x2="876.5" y2="540" stroke-width="1.2"/>
<ellipse cx="882.5" cy="538.3" rx="3" ry="5" transform="rotate(0 882.5 538.3)" stroke-width="1.5" fill="#fff"/>
<ellipse cx="882.5" cy="538.3" rx="1" ry="2.8" transform="rotate(0 882.5 538.3)" stroke-width="1.2" fill="#fff"/>
<line x1="888" y1="538" x2="893" y2="536.5" stroke-width="1.2"/>
<line x1="912" y1="532.5" x2="922.5" y2="530.5" stroke-width="1.2"/>
<ellipse cx="926.6" cy="529.4" rx="1.9" ry="3.3" transform="rotate(0 926.6 529.4)" stroke-width="1.4" fill="#fff"/>
<ellipse cx="926.6" cy="529.4" rx="0.5" ry="1.2" transform="rotate(0 926.6 529.4)" stroke-width="0.8" fill="#000"/>
<line x1="930" y1="529" x2="934.5" y2="528" stroke-width="1.2"/>
<ellipse cx="939.2" cy="527" rx="3.2" ry="4.2" transform="rotate(0 939.2 527)" stroke-width="1.7" fill="#fff"/>
<ellipse cx="939.2" cy="527" rx="1.4" ry="2" transform="rotate(0 939.2 527)" stroke-width="1.1" fill="#fff"/>
<line x1="902" y1="545" x2="906" y2="553" stroke-width="1.2"/>
<ellipse cx="908.7" cy="557.2" rx="4.2" ry="2.2" transform="rotate(-15 908.7 557.2)" stroke-width="1.4" fill="#fff"/>
<ellipse cx="908.7" cy="557.2" rx="1.5" ry="0.7" transform="rotate(-15 908.7 557.2)" stroke-width="1" fill="#fff"/>
<line x1="910" y1="561" x2="913.5" y2="572" stroke-width="1.2"/>
<ellipse cx="917.5" cy="578.8" rx="5" ry="3.6" transform="rotate(-15 917.5 578.8)" stroke-width="1.7" fill="#fff"/>
<ellipse cx="917.5" cy="578.8" rx="2.6" ry="1.6" transform="rotate(-15 917.5 578.8)" stroke-width="1.2" fill="#000"/>
<path d="M804.2,278.5 L807.1,287 Q818,286 828.9,281.2 L829.6,277" stroke-width="1.4" fill="#fff" />
<path d="M805.8,283 Q817,282 829,278.5" stroke-width="1.1" fill="none" />
<ellipse cx="814.4" cy="268.1" rx="17.4" ry="5.2" transform="rotate(-16.8 814.4 268.1)" stroke-width="1.4" fill="#fff"/>
<ellipse cx="811.6" cy="259.8" rx="17.5" ry="5.2" transform="rotate(-16.5 811.6 259.8)" stroke-width="1.4" fill="#fff"/>
<ellipse cx="808.8" cy="251.5" rx="17.6" ry="5.2" transform="rotate(-16.2 808.8 251.5)" stroke-width="1.4" fill="#fff"/>
<ellipse cx="806" cy="243.2" rx="17.7" ry="5.2" transform="rotate(-15.9 806 243.2)" stroke-width="1.4" fill="#fff"/>
<ellipse cx="803.2" cy="234.9" rx="17.8" ry="5.2" transform="rotate(-15.5 803.2 234.9)" stroke-width="1.4" fill="#fff"/>
<ellipse cx="800.5" cy="226.6" rx="17.9" ry="5.2" transform="rotate(-15.2 800.5 226.6)" stroke-width="1.4" fill="#fff"/>
<ellipse cx="797.7" cy="218.3" rx="18" ry="5.2" transform="rotate(-14.9 797.7 218.3)" stroke-width="1.4" fill="#fff"/>
<ellipse cx="794.9" cy="210" rx="18.1" ry="5.2" transform="rotate(-14.6 794.9 210)" stroke-width="1.4" fill="#fff"/>
<ellipse cx="792.1" cy="201.6" rx="18.2" ry="5.2" transform="rotate(-14.3 792.1 201.6)" stroke-width="1.4" fill="#fff"/>
<ellipse cx="789.3" cy="193.3" rx="18.3" ry="5.2" transform="rotate(-14 789.3 193.3)" stroke-width="1.4" fill="#fff"/>
<ellipse cx="786.5" cy="185" rx="18.3" ry="5.2" transform="rotate(-13.7 786.5 185)" stroke-width="1.4" fill="#fff"/>
<ellipse cx="783.7" cy="176.7" rx="18.4" ry="5.2" transform="rotate(-13.4 783.7 176.7)" stroke-width="1.4" fill="#fff"/>
<ellipse cx="781" cy="168.4" rx="18.5" ry="5.2" transform="rotate(-13.1 781 168.4)" stroke-width="1.4" fill="#fff"/>
<path d="M764.6,157.4 L766.8,167.6 Q778,170.5 791.7,162 L788.9,150" stroke-width="1.5" fill="#fff" />
<ellipse cx="776.8" cy="155.2" rx="12.5" ry="5.2" transform="rotate(-17 776.8 155.2)" stroke-width="1.5" fill="#fff"/>
<ellipse cx="777" cy="155.2" rx="9.5" ry="3.3" transform="rotate(-17 777 155.2)" stroke-width="1.3" fill="#fff"/>
<line x1="769.3" y1="131.3" x2="774.9" y2="147" stroke-width="1.3"/>
<ellipse cx="767.8" cy="121.3" rx="15.5" ry="5.4" transform="rotate(-22 767.8 121.3)" stroke-width="1.6" fill="none"/>
<ellipse cx="768.3" cy="121.3" rx="12" ry="2.4" transform="rotate(-22 768.3 121.3)" stroke-width="1.3" fill="none"/>
<rect x="747.5" y="124" width="6.5" height="7" rx="1.5" transform="rotate(-30 750.7 127.5)" fill="#fff" stroke-width="1.6"/>
<line x1="749" y1="126.5" x2="752" y2="130" stroke-width="0.9"/>
<ellipse cx="769.9" cy="106" rx="3.6" ry="3.4" transform="rotate(0 769.9 106)" stroke-width="1.8" fill="#000"/>
<ellipse cx="769.7" cy="105.8" rx="1.5" ry="1.2" transform="rotate(0 769.7 105.8)" stroke-width="0.9" fill="none" stroke="#fff"/>
<line x1="767.2" y1="109.3" x2="756.7" y2="120.8" stroke-width="1.2"/>
<line x1="746.5" y1="130.5" x2="742.5" y2="134" stroke-width="1.2"/>
<ellipse cx="736.3" cy="141.6" rx="2.8" ry="2.4" transform="rotate(-35 736.3 141.6)" stroke-width="1.5" fill="#000"/>
<path d="M737.5,140 L741.3,136.5" stroke-width="2.6" fill="none" />
</g>
</svg></body></html>
